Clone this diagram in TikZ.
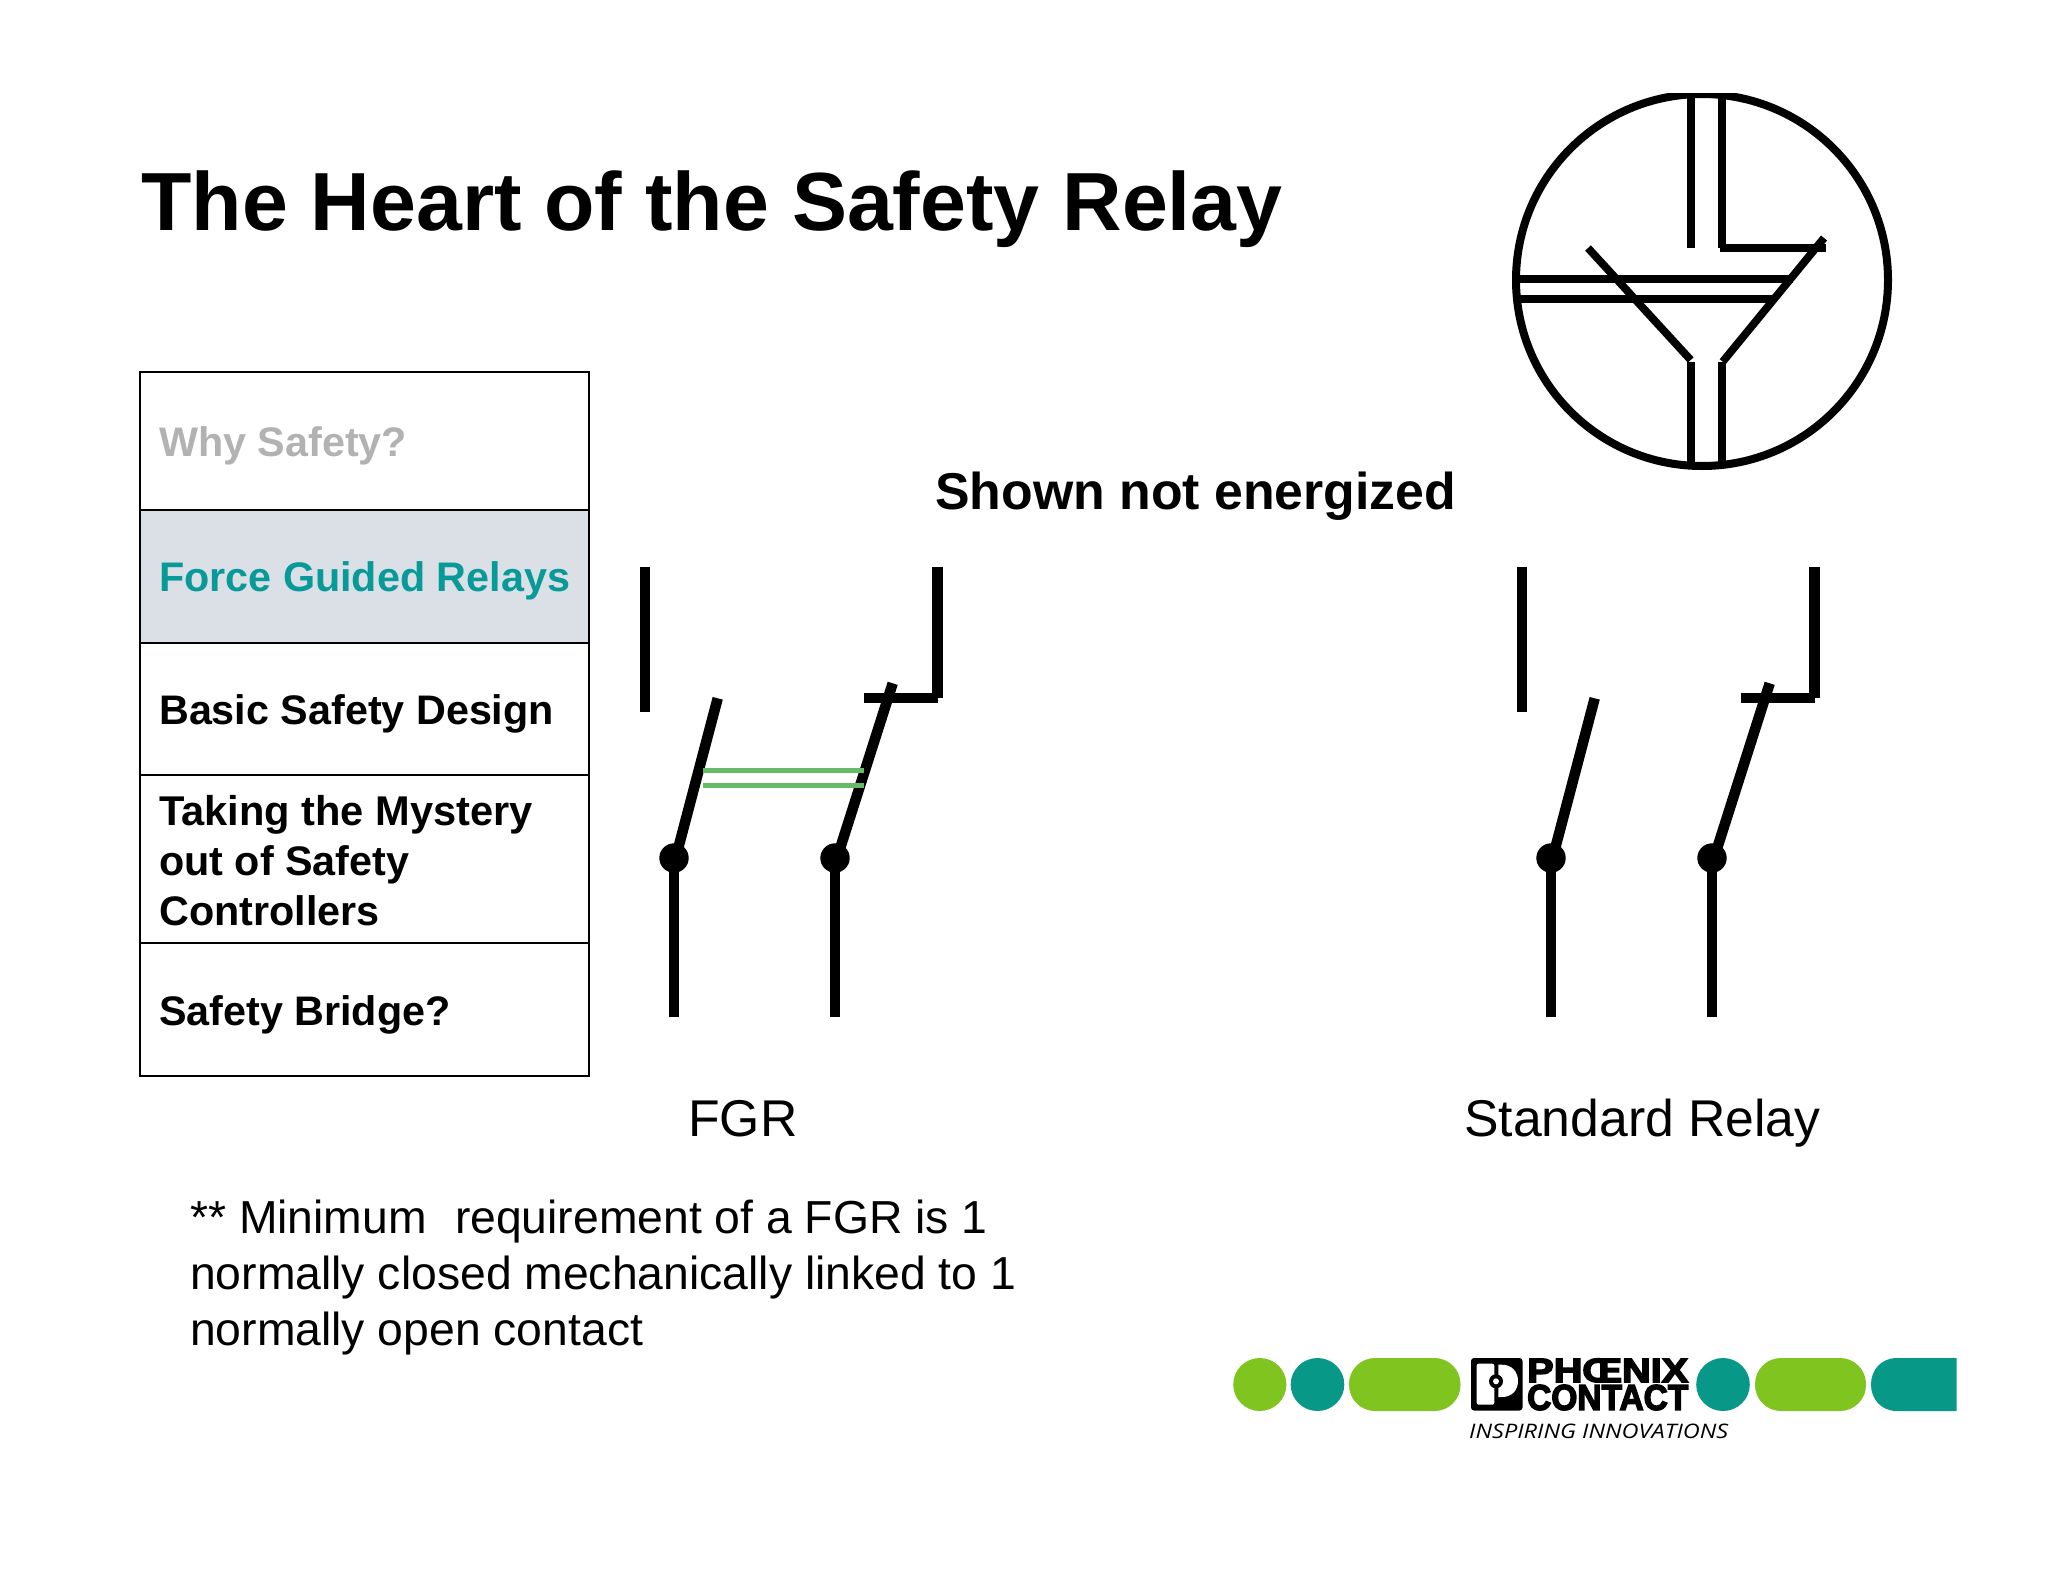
\documentclass[tikz,border=0pt]{standalone}
\usepackage{fontspec}
\setmainfont{Liberation Sans}
\newfontfamily\logofont[UprightFont=* Bold,FakeBold=4]{Liberation Sans}
\newfontfamily\tagfont{Open Sans}
\usetikzlibrary{calc}
\definecolor{lgreen}{HTML}{80C41F}
\definecolor{lteal}{HTML}{079888}
\definecolor{rowteal}{HTML}{079A98}
\definecolor{rowfill}{HTML}{DAE0E6}
\definecolor{linkgreen}{HTML}{66BB66}
\definecolor{mutedgray}{HTML}{B2B2B2}
\newcommand{\fsz}[1]{\fontsize{#1}{#1}\selectfont}
\tikzset{
  wire/.style={line width=10.5pt,line cap=butt},
  blade/.style={line width=10.5pt,line cap=butt},
  sym/.style={line width=7.8pt,line cap=butt},
  tie/.style={line width=5pt,color=linkgreen},
  rowbox/.style={draw=black,line width=2pt},
  rowtext/.style={anchor=base west,inner sep=0pt,font=\bfseries\fsz{41.3}},
  note/.style={anchor=base west,inner sep=0pt,font=\fsz{46.3}},
  bigcap/.style={anchor=base west,inner sep=0pt,font=\fsz{51.7}}
}
\begin{document}
\begin{tikzpicture}[x=1pt,y=-1pt]
\useasboundingbox (0,0) rectangle (2048,1582);
\fill[white] (0,0) rectangle (2048,1582);
% title
\node[anchor=base west,inner sep=0pt,font=\bfseries\fsz{82.5}] (title) at (141,230.5) {The Heart of the Safety Relay};
% table
\path[fill=rowfill] (140,510) rectangle (589,643);
\draw[rowbox] (140,372) rectangle (589,1075.6);
\draw[rowbox] (140,510) -- (589,510);
\draw[rowbox] (140,643) -- (589,643);
\draw[rowbox] (140,775) -- (589,775);
\draw[rowbox] (140,942.5) -- (589,942.5);
\node[rowtext,text=mutedgray] (r1) at (159,456.7) {Why Safety?};
\node[rowtext,text=rowteal] (r2) at (159,591) {Force Guided Relays};
\node[rowtext] (r3) at (159,724) {Basic Safety Design};
\node[rowtext,font=\bfseries\fsz{41.6}] (r4a) at (159,825) {Taking the Mystery};
\node[rowtext] (r4b) at (159,875) {out of Safety};
\node[rowtext] (r4c) at (159,925) {Controllers};
\node[rowtext] (r5) at (159,1025) {Safety Bridge?};
% labels
\node[anchor=base west,inner sep=0pt,font=\bfseries\fsz{51.8}] (shown) at (935,509.5) {Shown not energized};
\node[bigcap] (fgr) at (688,1136) {FGR};
\node[bigcap] (std) at (1464,1136) {Standard Relay};
\node[note] (n1) at (190,1233) {** Minimum\ \ \hspace{2.5pt}requirement of a FGR is 1};
\node[note] (n2) at (190,1289) {normally closed mechanically linked to 1};
\node[note] (n3) at (190,1345) {normally open contact};
% FGR relay
\begin{scope}
\draw[wire] (644.8,566.7) -- (644.8,712.3);
\draw[wire] (937.5,566.7) -- (937.5,697.7);
\draw[wire] (864.3,697.8) -- (937.7,697.8);
\draw[blade] (717.7,698.3) -- (673.5,866);
\draw[blade] (892.7,683.3) -- (837,858);
\fill (674,858) circle (14.7);
\fill (835,858) circle (14.7);
\draw[wire] (674,858) -- (674,1017);
\draw[wire] (835,858) -- (835,1017);
\draw[tie] (703.3,770.3) -- (864.3,770.3);
\draw[tie] (703.3,785) -- (864.3,785);
\end{scope}
% Standard relay
\begin{scope}[xshift=877pt]
\draw[wire] (644.8,566.7) -- (644.8,712.3);
\draw[wire] (937.5,566.7) -- (937.5,697.7);
\draw[wire] (864.3,697.8) -- (937.7,697.8);
\draw[blade] (717.7,698.3) -- (673.5,866);
\draw[blade] (892.7,683.3) -- (837,858);
\fill (674,858) circle (14.7);
\fill (835,858) circle (14.7);
\draw[wire] (674,858) -- (674,1017);
\draw[wire] (835,858) -- (835,1017);
\end{scope}
% circle symbol
\begin{scope}
\clip (1500,93) rectangle (1900,480);
\draw[line width=8pt] (1702,280) circle (186);
\draw[sym] (1690.7,90) -- (1690.7,248);
\draw[sym] (1722.3,90) -- (1722.3,248);
\draw[line width=8pt] (1720,247.7) -- (1825.7,247.7);
\draw[sym] (1824,238) -- (1722.7,361.7);
\draw[sym] (1588,248) -- (1690.7,360);
\draw[sym] (1515,279) -- (1793,279);
\draw[sym] (1516,299.3) -- (1773,299.3);
\draw[sym] (1691,361.7) -- (1691,467);
\draw[sym] (1722.3,361.7) -- (1722.3,467);
\end{scope}
% logo
\fill[lgreen] (1259.8,1384.5) ellipse (26.6 and 26.5);
\fill[lteal] (1317.5,1384.5) ellipse (26.8 and 26.5);
\fill[lgreen,rounded corners=26pt] (1349,1358) rectangle (1460.5,1411);
\fill[lteal] (1723,1384.5) ellipse (26.8 and 26.5);
\fill[lgreen,rounded corners=26pt] (1755,1358) rectangle (1866,1411);
\fill[lteal] (1956.6,1358) -- (1897,1358) .. controls (1881,1358) and (1871,1370) .. (1871,1384.5) .. controls (1871,1399) and (1881,1411) .. (1897,1411) -- (1956.6,1411) -- cycle;
\fill[rounded corners=3pt] (1471,1358) rectangle (1522.5,1410.5);
\fill[white,rounded corners=2pt] (1476.7,1363.7) rectangle (1494.3,1404.7);
\fill[white] (1498.3,1364.7) -- (1502,1364.7) .. controls (1512,1364.7) and (1518,1372) .. (1518,1381) .. controls (1518,1390) and (1512,1397) .. (1502,1397) -- (1498.3,1397) -- cycle;
\fill (1496,1381.3) circle (7);
\fill[white] (1496,1381.3) circle (3);
\node[anchor=west,inner sep=0pt] (phoenix) at (1527,1370.4) {\resizebox{161pt}{23.5pt}{\logofont PHŒNIX}};
\node[anchor=west,inner sep=0pt] (contact) at (1527,1397.5) {\resizebox{161pt}{25pt}{\logofont CONTACT}};
\node[anchor=base west,inner sep=0pt] (tag) at (1469,1438) {\resizebox{259pt}{14.5pt}{\tagfont\itshape INSPIRING INNOVATIONS}};
\end{tikzpicture}
\end{document}
